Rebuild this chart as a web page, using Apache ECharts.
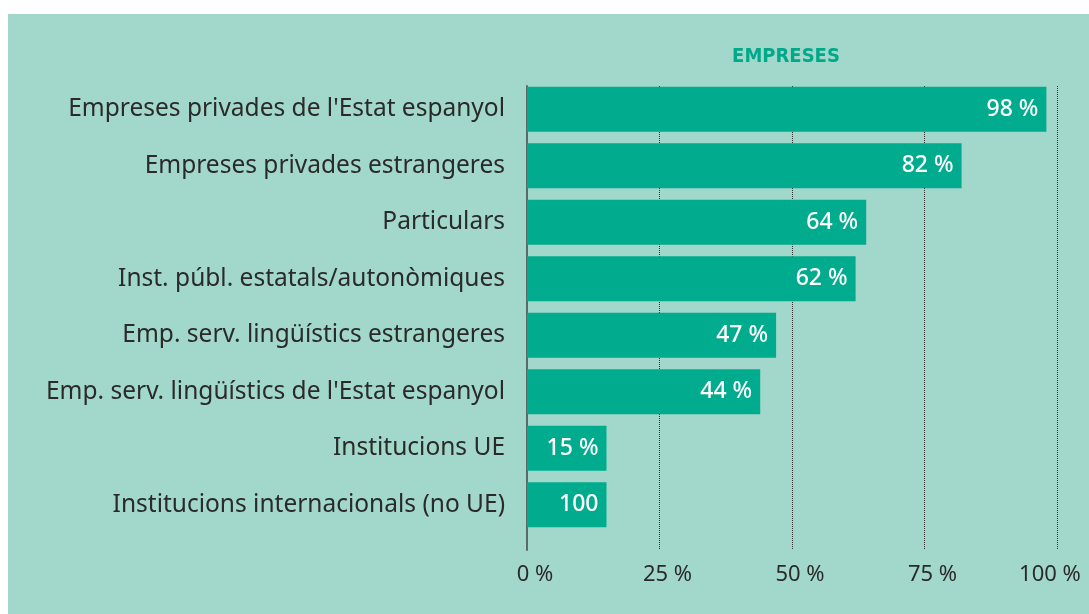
<!DOCTYPE html>
<html><head><meta charset="utf-8">
<script src="https://cdn.jsdelivr.net/npm/echarts@6/dist/echarts.min.js"></script>
<style>
html,body{margin:0;padding:0;background:#fff;}
#c{position:absolute;left:8px;top:14px;width:1081px;height:600px;background:#a2d8cb;}
</style></head>
<body><div id="c"></div>
<script>
const categories = [
  "Empreses privades de l'Estat espanyol",
  "Empreses privades estrangeres",
  "Particulars",
  "Inst. públ. estatals/autonòmiques",
  "Emp. serv. lingüístics estrangeres",
  "Emp. serv. lingüístics de l'Estat espanyol",
  "Institucions UE",
  "Institucions internacionals (no UE)"
];
const values = [98, 82, 64, 62, 47, 44, 15, 15];
const barLabels = ["98 %", "82 %", "64 %", "62 %", "47 %", "44 %", "15 %", "100"];
const xTicks = [0, 25, 50, 75, 100];
const title = "EMPRESES";

const chart = echarts.init(document.getElementById('c'), null, {renderer:'canvas'});
const font = "'Noto Sans', sans-serif";
chart.setOption({
  animation:false,
  title:{text:title, left:773, top:38, textAlign:'center', textVerticalAlign:'middle',
    textStyle:{color:'#00a98a', fontSize:20, fontWeight:'bold', fontFamily:"'DejaVu Sans Condensed','DejaVu Sans', sans-serif"}},
  grid:[
    {left:519, right:32, top:67, height:452, outerBoundsMode:'none', containLabel:false},
    {left:519, right:32, top:72, bottom:64, outerBoundsMode:'none', containLabel:false}
  ],
  xAxis:[
    {gridIndex:0, type:'value', min:0, max:100, interval:25, show:false},
    {gridIndex:1, type:'value', min:0, max:100, interval:25,
      axisLine:{show:false}, axisTick:{show:false},
      splitLine:{show:true, lineStyle:{color:'#333', type:'dotted', width:1}},
      axisLabel:{margin:14, color:'#2a2a2a', fontSize:22, fontFamily:font,
        formatter:v=>xTicks.includes(v)? (v===100 ? '{b|'+v+' %}' : '{a|'+v+' %}') : '',
        rich:{
          a:{padding:[0,0,0,16], color:'#2a2a2a', fontSize:22, fontFamily:font},
          b:{padding:[0,14,0,0], color:'#2a2a2a', fontSize:22, fontFamily:font}
        }}}
  ],
  yAxis:[
    {gridIndex:0, type:'category', data:categories, inverse:true,
      axisLine:{show:false}, axisTick:{show:false}, splitLine:{show:false},
      axisLabel:{margin:22, color:'#2a2a2a', fontSize:24.5, fontFamily:font}},
    {gridIndex:1, type:'category', data:categories, inverse:true,
      axisLine:{show:true, lineStyle:{color:'#5a6a66', width:2}}, axisTick:{show:false},
      axisLabel:{show:false}, splitLine:{show:false}}
  ],
  series:[{
    type:'bar', xAxisIndex:0, yAxisIndex:0, data:values, barWidth:45,
    itemStyle:{color:'#00ab8e'},
    label:{show:true, position:'insideRight', distance:8, color:'#fff', fontSize:23, fontWeight:500, fontFamily:font,
      formatter:p=>barLabels[p.dataIndex]}
  }]
});
</script></body></html>
